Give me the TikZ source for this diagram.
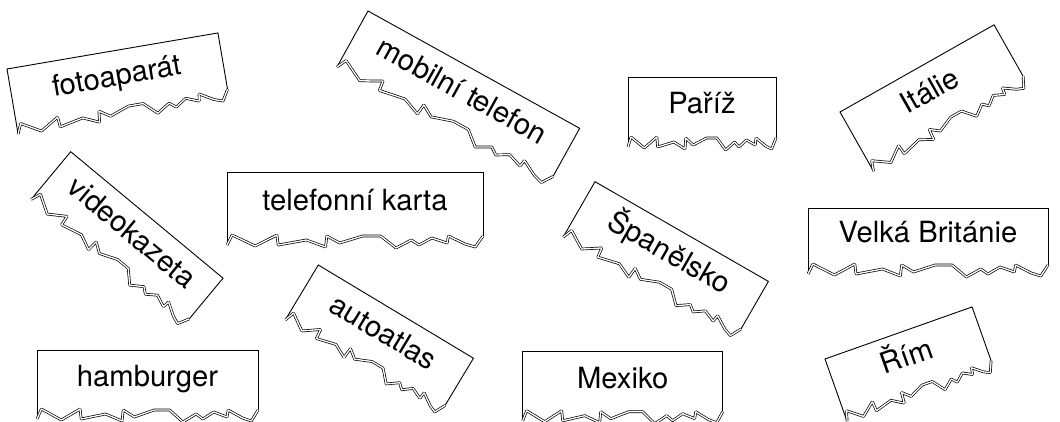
\documentclass[tikz,border=0pt]{standalone}
\usepackage{fontspec}
\setmainfont{TeX Gyre Heros}
\tikzset{
  outline/.style={draw=black, line width=0.9pt, line join=miter},
  tornedge/.style={draw=black, double=white, double distance=1.3pt, line width=0.7pt, line join=bevel},
  lbl/.style={font=\fontsize{29.2}{34}\selectfont, inner sep=0pt, anchor=base}
}
\newcommand{\tornlabel}[7]{%
  \begin{scope}[shift={(#2,#3)}, rotate=#4]
    \def\W{#5}\def\H{#6}
    \draw[outline] (0,\H+6) -- (0,0) -- (\W,0) -- (\W,\H-3);
    \draw[tornedge] (0,\H+6) -- ({0.02*\W},\H-4) -- ({0.11*\W},\H+7) -- ({0.195*\W},\H-4)
      -- ({0.2*\W},\H+6) -- ({0.31*\W},\H+1) -- ({0.385*\W},\H+8) -- ({0.39*\W},\H-3)
      -- ({0.44*\W},\H+4) -- ({0.53*\W},\H-3) -- ({0.6*\W},\H-3) -- ({0.66*\W},\H+9)
      -- ({0.72*\W},\H+1) -- ({0.75*\W},\H+6) -- ({0.8*\W},\H-1) -- ({0.86*\W},\H+4)
      -- ({0.865*\W},\H-3) -- ({0.93*\W},\H+5) -- ({0.97*\W},\H+8) -- (\W,\H-3);
    \node[lbl, rotate=#4] (#1) at ({\W/2},{\H/2+5}) {#7};
  \end{scope}}
\begin{document}
\begin{tikzpicture}[x=1pt, y=-1pt]
\useasboundingbox (0,0) rectangle (1060,422);
\tornlabel{foto}{7}{69}{9.7}{214}{60}{fotoaparát}
\tornlabel{mobil}{368}{11}{-29}{242}{58}{mobilní telefon}
\tornlabel{pariz}{628}{77}{0}{148}{64}{Paříž}
\tornlabel{italie}{840}{112}{29.5}{177}{62}{Itálie}
\tornlabel{video}{70.7}{151.7}{-39.7}{198}{56}{videokazeta}
\tornlabel{karta}{227}{172}{0}{256}{67}{telefonní karta}
\tornlabel{spanel}{595}{181.7}{-29.9}{200}{58}{Španělsko}
\tornlabel{britanie}{808}{208}{0}{240}{60}{Velká Británie}
\tornlabel{atlas}{318.3}{265}{-31}{181}{58}{autoatlas}
\tornlabel{hamb}{37}{350}{0}{221}{63}{hamburger}
\tornlabel{mexiko}{522.7}{351.7}{0}{200}{63}{Mexiko}
\tornlabel{rim}{825}{359}{19.5}{156}{60}{Řím}
\end{tikzpicture}
\end{document}
